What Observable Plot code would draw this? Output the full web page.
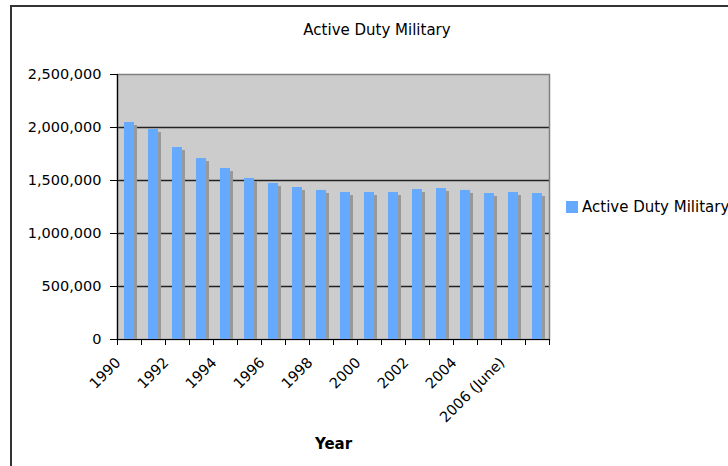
<!DOCTYPE html>
<html>
<head>
<meta charset="utf-8">
<script src="https://cdn.jsdelivr.net/npm/d3@7"></script>
<script src="https://cdn.jsdelivr.net/npm/@observablehq/plot@0.6"></script>
<style>
html, body { margin: 0; padding: 0; background: #fff; overflow: hidden; width: 728px; height: 466px; }
#wrap { position: relative; width: 728px; height: 466px; font-family: "DejaVu Sans", Verdana, sans-serif; color: #000; overflow: hidden; }
#border { position: absolute; left: 10px; top: 5px; width: 800px; height: 600px; border: 2px solid #333; box-sizing: border-box; }
#chart { position: absolute; left: 0; top: 0; }
#title { position: absolute; left: 0; width: 754px; top: 21px; text-align: center; font-size: 15px; line-height: 18px; white-space: nowrap; }
#legend { position: absolute; left: 566px; top: 199px; white-space: nowrap; font-size: 15px; line-height: 16px; }
#legend .sw { position: absolute; left: 0; top: 2px; width: 12px; height: 12px; background: #66aaff; }
#legend .lb { position: absolute; left: 16px; top: 0; }
</style>
</head>
<body>
<div id="wrap">
  <div id="border"></div>
  <div id="chart"></div>
  <div id="title"></div>
  <div id="legend"><span class="sw"></span><span class="lb"></span></div>
</div>
<script>
const chartTitle = "Active Duty Military";
const seriesName = "Active Duty Military";
const xTitle = "Year";
const categories = ["1990","1991","1992","1993","1994","1995","1996","1997","1998","1999","2000","2001","2002","2003","2004","2005","2006 (June)","2007"];
const values = [2047000, 1981000, 1811000, 1707000, 1613000, 1519000, 1472000, 1434000, 1406000, 1387000, 1387000, 1387000, 1415000, 1424000, 1406000, 1377000, 1387000, 1377000];
const xTickLabels = ["1990","1992","1994","1996","1998","2000","2002","2004","2006 (June)"];
const yTicks = [0, 500000, 1000000, 1500000, 2000000, 2500000];
const yTickLabels = ["0","500,000","1,000,000","1,500,000","2,000,000","2,500,000"];

const rows = categories.map((c, i) => ({category: c, value: values[i]}));

document.getElementById("title").textContent = chartTitle;
document.querySelector("#legend .lb").textContent = seriesName;

const chart = Plot.plot({
  width: 728,
  height: 466,
  marginLeft: 117,
  marginRight: 179,
  marginTop: 74,
  marginBottom: 127,
  style: {fontFamily: "DejaVu Sans, Verdana, sans-serif", fontSize: "14.5px", color: "#000", background: "transparent", overflow: "visible"},
  x: {type: "band", domain: categories, paddingInner: 0.583, paddingOuter: 0.2915, align: 0.5, axis: null, label: null},
  y: {domain: [0, 2500000], axis: null, label: null},
  marks: [
    Plot.frame({fill: "#cccccc"}),
    Plot.ruleY(yTicks.slice(1, -1), {stroke: "#222", strokeWidth: 1.3}),
    Plot.frame({stroke: "#808080", strokeWidth: 1.5}),
    Plot.barY(rows, {x: "category", y: "value", fill: "#999999", dx: 3, dy: 3, clip: true}),
    Plot.barY(rows, {x: "category", y: "value", fill: "#66aaff"}),
    Plot.ruleY([0], {stroke: "#000", strokeWidth: 1.2}),
    Plot.ruleX([categories[0]], {dx: -12, stroke: "#000", strokeWidth: 1.2}),
    Plot.axisY({ticks: yTicks, tickFormat: d => yTickLabels[yTicks.indexOf(d)], tickSize: 7, tickPadding: 9, fontSize: 14.5, stroke: "#000", label: null}),
    Plot.axisX({ticks: categories, tickSize: 6, tickFormat: () => "", dx: -12, stroke: "#000", label: null}),
    Plot.axisX({ticks: [categories[categories.length - 1]], tickSize: 6, tickFormat: () => "", dx: 12, stroke: "#000", label: null}),
    Plot.text(xTickLabels, {x: d => d, frameAnchor: "bottom", rotate: -45, textAnchor: "end", dx: -8, dy: 24, fontSize: 14.5, fill: "#000"}),
    Plot.text([xTitle], {frameAnchor: "bottom", dy: 109, fontWeight: "bold", fontSize: 15, fill: "#000"})
  ]
});
document.getElementById("chart").appendChild(chart);
</script>
</body>
</html>
